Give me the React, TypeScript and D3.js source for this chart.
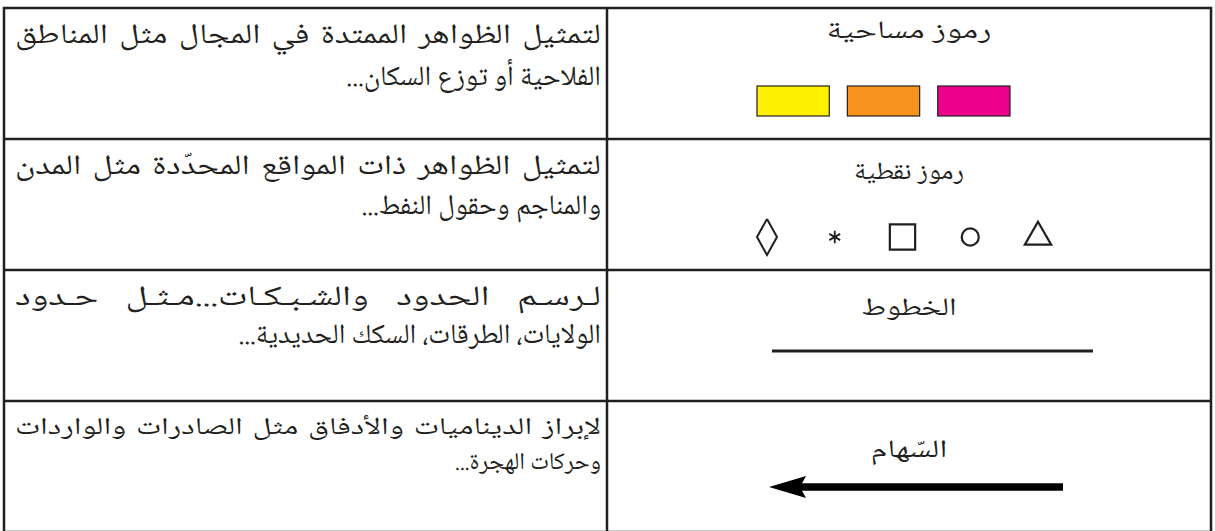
import React, { useEffect, useRef } from 'react';
import * as d3 from 'd3';

const rowKeys = ['area', 'point', 'line', 'arrow'];
const titles = ['رموز مساحية', 'رموز نقطية', 'الخطوط', 'السّهام'];
const descLine1 = [
  'لتمثيل الظواهر الممتدة في المجال مثل المناطق',
  'لتمثيل الظواهر ذات المواقع المحدّدة مثل المدن',
  'لـرسـم الحدود والشـبـكـات...مـثـل حـدود',
  'لإبراز الديناميات والأدفاق مثل الصادرات والواردات',
];
const descLine2 = [
  'الفلاحية أو توزع السكان...',
  'والمناجم وحقول النفط...',
  'الولايات، الطرقات، السكك الحديدية...',
  'وحركات الهجرة...',
];
const areaColors = ['#fff200', '#f7941d', '#ec008c'];
const pointSymbols = ['diamond', 'asterisk', 'square', 'circle', 'triangle'];

const W = 1215;
const H = 531;
const INK = '#231f20';
const FONT = "'Noto Naskh Arabic', 'Noto Sans Arabic', Amiri, 'DejaVu Sans', serif";

const App = () => {
  const ref = useRef<SVGSVGElement | null>(null);

  useEffect(() => {
    if (!ref.current) return;
    const svg = d3.select(ref.current);
    svg.selectAll('*').remove();

    const left = 4, right = 1211, top = 8, bottom = 532, mid = 607;
    const y = d3.scaleBand<string>().domain(rowKeys).range([top, bottom]);
    const cx = (mid + right) / 2;

    // table frame (bottom edge falls just outside the picture)
    svg.append('rect')
      .attr('x', left).attr('y', top)
      .attr('width', right - left).attr('height', bottom - top)
      .attr('fill', '#fff').attr('stroke', INK).attr('stroke-width', 2.5);
    svg.append('line')
      .attr('x1', mid).attr('x2', mid).attr('y1', top).attr('y2', bottom)
      .attr('stroke', INK).attr('stroke-width', 2.5);
    svg.selectAll('line.row')
      .data(rowKeys.slice(1))
      .join('line')
      .attr('class', 'row')
      .attr('x1', left).attr('x2', right)
      .attr('y1', d => y(d)!).attr('y2', d => y(d)!)
      .attr('stroke', INK).attr('stroke-width', 2.5);

    // description text (left column, rtl, first line justified)
    const textSize = [28, 28, 28, 24];
    const base1 = [35, 35, 35, 33];
    const base2 = [77, 75, 73, 68];
    const textRight = mid - 6;
    const textLeft = left + 11;
    // titles (right column)
    const titleBase = [30, 40, 45, 56];
    const titleWidth = [165, 110, 95, 77];

    rowKeys.forEach((k, i) => {
      const y0 = y(k)!;
      const g = svg.append('g').attr('font-family', FONT).attr('fill', INK)
        .attr('font-size', textSize[i]).attr('direction', 'rtl');

      // widen words a little (the source font is broader), then spread the rest over the gaps
      const words = descLine1[i].split(' ');
      const nodes = words.map(w => g.append('text')
        .attr('y', y0 + base1[i])
        .attr('text-anchor', 'start')
        .text(w));
      const widths = nodes.map(n => (n.node() as SVGTextElement).getComputedTextLength());
      const avail = textRight - textLeft;
      const minGap = textSize[i] * 0.4;
      const stretch = Math.max(1, Math.min(1.35, (avail - minGap * (words.length - 1)) / d3.sum(widths)));
      const gap = (avail - stretch * d3.sum(widths)) / Math.max(1, words.length - 1);
      let x = textRight;
      nodes.forEach((n, j) => {
        const w = widths[j] * stretch;
        n.attr('x', x).attr('textLength', w).attr('lengthAdjust', 'spacingAndGlyphs');
        x -= w + gap;
      });

      g.append('text')
        .attr('x', textRight).attr('y', y0 + base2[i])
        .attr('text-anchor', 'start')
        .text(descLine2[i]);

      svg.append('text')
        .attr('x', cx).attr('y', y0 + titleBase[i])
        .attr('text-anchor', 'middle').attr('direction', 'rtl')
        .attr('font-family', FONT).attr('font-size', 25).attr('fill', INK)
        .attr('textLength', titleWidth[i])
        .attr('lengthAdjust', 'spacingAndGlyphs')
        .text(titles[i]);
    });

    // area symbols
    const xa = d3.scaleBand<string>().domain(areaColors).range([757, 1010]).paddingInner(0.2);
    svg.selectAll('rect.area')
      .data(areaColors)
      .join('rect')
      .attr('class', 'area')
      .attr('x', d => xa(d)!).attr('y', y('area')! + 78)
      .attr('width', xa.bandwidth()).attr('height', 30)
      .attr('fill', d => d).attr('stroke', INK).attr('stroke-width', 1.2);

    // point symbols
    const xp = d3.scalePoint<string>().domain(pointSymbols).range([767, 1038]);
    const py = y('point')! + 98;
    const symType: Record<string, any> = {
      asterisk: d3.symbolAsterisk,
      square: d3.symbolSquare,
      circle: d3.symbolCircle,
      triangle: d3.symbolTriangle,
    };
    const symSize: Record<string, number> = { asterisk: 110, square: 640, circle: 230, triangle: 300 };
    pointSymbols.forEach(s => {
      const g = svg.append('g').attr('transform', `translate(${xp(s)},${py})`);
      if (s === 'diamond') {
        g.append('path')
          .attr('d', d3.line()([[0, -18], [10, 0], [0, 18], [-10, 0], [0, -18]]))
          .attr('fill', 'none').attr('stroke', INK).attr('stroke-width', 2);
      } else {
        g.append('path')
          .attr('d', d3.symbol().type(symType[s]).size(symSize[s])()!)
          .attr('fill', 'none').attr('stroke', INK)
          .attr('stroke-width', s === 'asterisk' ? 1.8 : 2.2);
      }
    });

    // line symbol
    svg.append('line')
      .attr('x1', 772).attr('x2', 1093)
      .attr('y1', y('line')! + 81).attr('y2', y('line')! + 81)
      .attr('stroke', INK).attr('stroke-width', 3);

    // arrow symbol
    const ay = y('arrow')! + 86;
    svg.append('line')
      .attr('x1', 800).attr('x2', 1063).attr('y1', ay).attr('y2', ay)
      .attr('stroke', '#000').attr('stroke-width', 7.5);
    svg.append('path')
      .attr('d', d3.line()([[769, ay], [806, ay - 11], [800, ay], [806, ay + 11]])! + 'Z')
      .attr('fill', '#000');
  }, []);

  return (
    <svg
      ref={ref}
      width={W}
      height={H}
      style={{ position: 'absolute', left: 0, top: 0, display: 'block' }}
    />
  );
};

export default App;
